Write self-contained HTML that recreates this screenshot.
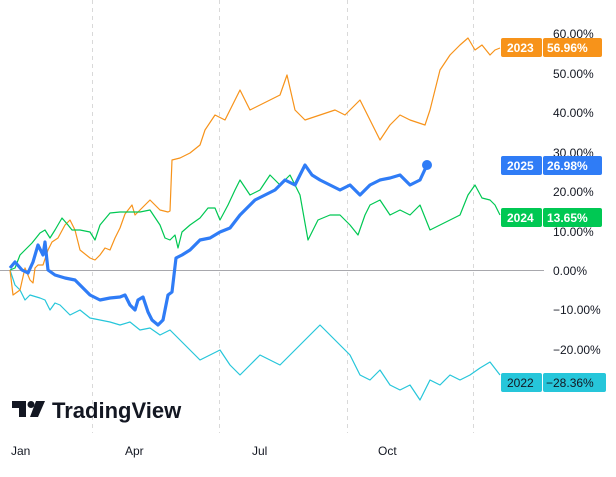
<!DOCTYPE html>
<html><head><meta charset="utf-8"><style>
body{margin:0;background:#fff;font-family:"Liberation Sans",sans-serif}
svg text{font-family:"Liberation Sans",sans-serif;font-size:12px}
</style></head><body>
<svg width="616" height="472" viewBox="0 0 616 472" xmlns="http://www.w3.org/2000/svg">
<rect width="616" height="472" fill="#fff"/>
<g stroke="#d9d9d9" stroke-dasharray="4,4" stroke-width="1">
<line x1="92.5" y1="0" x2="92.5" y2="433"/><line x1="219.5" y1="0" x2="219.5" y2="433"/>
<line x1="347.5" y1="0" x2="347.5" y2="433"/><line x1="473.5" y1="0" x2="473.5" y2="433"/>
</g>
<line x1="0" y1="270.5" x2="544" y2="270.5" stroke="#a8a8ad" stroke-width="1"/>
<g fill="none" stroke-linejoin="round">
<polyline stroke="#26c6da" stroke-width="1.2" points="10,270 15,285 20,290 25,300 30,295 40,298 45,300 50,310 55,303 60,305 70,315 80,310 90,318 100,320 110,322 120,325 130,322 140,330 150,328 160,335 170,330 180,340 190,350 200,360 210,355 220,350 230,365 240,375 250,365 260,355 270,360 280,365 290,355 300,345 310,335 320,325 330,335 340,345 350,355 360,375 370,380 380,370 390,385 400,390 410,385 420,400 430,380 440,385 450,375 460,380 470,375 480,368 490,362 500,375"/>
<polyline stroke="#f7931a" stroke-width="1.2" points="10,270 13,295 20,290 25,268 30,280 33,283 35,268 38,265 43,265 48,250 52,242 58,238 65,225 70,220 75,230 80,250 90,258 95,260 100,255 105,248 110,250 115,238 120,228 125,214 132,205 135,215 140,210 150,200 160,210 168,212 170,211 172,160 180,158 190,153 200,145 205,130 215,115 225,120 235,100 240,90 250,110 260,105 270,100 280,95 287,75 295,110 305,120 320,115 335,110 345,115 360,100 370,120 380,140 390,125 400,115 410,120 425,125 430,110 440,70 450,55 460,45 468,38 475,50 482,45 490,55 495,50 500,48"/>
<polyline stroke="#00c853" stroke-width="1.2" points="10,270 15,268 20,255 25,250 32,243 40,233 45,230 50,238 55,230 62,218 68,225 72,230 80,230 90,232 95,240 100,225 110,213 120,212 140,212 150,210 160,225 165,238 170,240 175,235 178,248 182,232 190,225 200,218 208,208 215,208 220,220 228,205 235,190 240,180 250,195 260,190 270,175 280,185 290,175 300,195 308,240 318,220 330,215 340,215 350,225 358,235 365,215 370,205 380,200 390,215 400,210 410,215 420,205 430,230 440,225 450,220 460,215 468,195 475,185 482,198 490,200 495,205 500,215"/>
<polyline stroke="#2f7cf6" stroke-width="3.2" points="10,268 15,262 22,270 28,273 33,262 38,245 43,255 45,242 48,270 55,275 65,278 75,280 80,285 90,295 100,300 110,298 120,297 125,295 130,305 135,310 138,300 143,297 148,312 152,320 158,325 163,320 168,295 172,292 176,258 182,255 190,250 200,240 210,238 220,232 230,228 240,215 250,205 255,200 265,195 275,190 285,180 295,185 305,165 312,175 320,180 330,185 340,190 350,185 360,195 370,185 380,180 390,178 400,175 410,185 420,180 427,165"/>
</g>
<circle cx="427" cy="165" r="5" fill="#2f7cf6"/>
<g fill="#131722" font-size="12">
<text x="553" y="38">60.00%</text><text x="553" y="78">50.00%</text><text x="553" y="117">40.00%</text>
<text x="553" y="157">30.00%</text><text x="553" y="196">20.00%</text><text x="553" y="236">10.00%</text>
<text x="553" y="275">0.00%</text><text x="553" y="314">−10.00%</text><text x="553" y="354">−20.00%</text>
<text x="11" y="455">Jan</text><text x="125" y="455">Apr</text><text x="252" y="455">Jul</text><text x="378" y="455">Oct</text>
</g>
<g font-size="12" font-weight="bold">
<rect x="501" y="38" width="41" height="19" rx="2" fill="#f7931a"/><rect x="543" y="38" width="59" height="19" rx="2" fill="#f7931a"/>
<text x="507" y="52" fill="#fff">2023</text><text x="547" y="52" fill="#fff">56.96%</text>
<rect x="501" y="156" width="41" height="19" rx="2" fill="#2f7cf6"/><rect x="543" y="156" width="59" height="19" rx="2" fill="#2f7cf6"/>
<text x="507" y="170" fill="#fff">2025</text><text x="547" y="170" fill="#fff">26.98%</text>
<rect x="501" y="208" width="41" height="19" rx="2" fill="#00c853"/><rect x="543" y="208" width="59" height="19" rx="2" fill="#00c853"/>
<text x="507" y="222" fill="#fff">2024</text><text x="547" y="222" fill="#fff">13.65%</text>
<rect x="501" y="373" width="41" height="19" rx="2" fill="#26c6da"/><rect x="543" y="373" width="63" height="19" rx="2" fill="#26c6da"/>
<text x="507" y="387" fill="#131722" font-weight="normal">2022</text><text x="546" y="387" fill="#131722" font-weight="normal">−28.36%</text>
</g>
<g fill="#131722">
<rect x="12" y="401" width="14" height="7"/><rect x="19" y="401" width="7" height="16"/>
<circle cx="31" cy="404.5" r="3.5"/><polygon points="36,401 45,401 38,417 30,417"/>
<text x="52" y="418" font-size="22" font-weight="bold" style="font-size:22px">TradingView</text>
</g>
</svg>
</body></html>
